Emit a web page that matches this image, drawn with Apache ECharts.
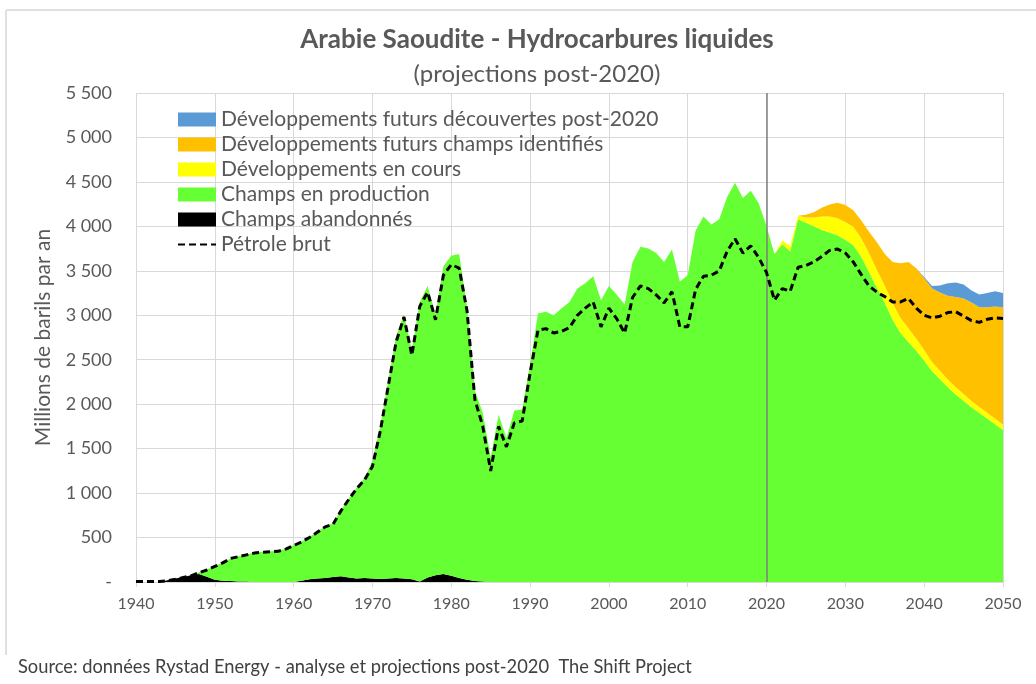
<!DOCTYPE html>
<html>
<head>
<meta charset="utf-8">
<title>Arabie Saoudite - Hydrocarbures liquides</title>
<script src="https://cdn.jsdelivr.net/npm/echarts@6/dist/echarts.min.js"></script>
<style>
  html, body { margin: 0; padding: 0; background: #fff; }
  #chart { width: 1036px; height: 684px; }
</style>
</head>
<body>
<div id="chart"></div>
<script>
// années 1940 -> 2050
var annees = [];
for (var a = 1940; a <= 2050; a++) { annees.push(String(a)); }

// Champs abandonnés (1940 -> 2050)
var abandonnes = [
  0, 0, 0, 0, 20, 40, 55, 75, 90, 60,
  25, 15, 10, 5, 5, 0, 0, 0, 0, 0,
  0, 15, 30, 40, 45, 55, 65, 50, 40, 45,
  40, 35, 40, 45, 40, 30, 5, 50, 75, 90,
  70, 45, 25, 10, 5, 0, 0, 0, 0, 0,
  0, 0, 0, 0, 0, 0, 0, 0, 0, 0,
  0, 0, 0, 0, 0, 0, 0, 0, 0, 0,
  0, 0, 0, 0, 0, 0, 0, 0, 0, 0,
  0, 0, 0, 0, 0, 0, 0, 0, 0, 0,
  0, 0, 0, 0, 0, 0, 0, 0, 0, 0,
  0, 0, 0, 0, 0, 0, 0, 0, 0, 0,
  0
];

// Champs en production (1940 -> 2050)
var enProduction = [
  0, 0, 0, 0, 0, 0, 0, 0, 20, 80,
  155, 205, 255, 285, 305, 330, 340, 345, 350, 375,
  415, 440, 475, 525, 580, 605, 745, 890, 1020, 1125,
  1320, 1725, 2220, 2715, 2970, 2570, 3145, 3280, 2935, 3460,
  3600, 3645, 3075, 2140, 1895, 1400, 1880, 1620, 1930, 1940,
  2450, 3020, 3040, 3000, 3080, 3150, 3300, 3360, 3440, 3170,
  3330, 3230, 3120, 3600, 3770, 3750, 3700, 3600, 3740, 3380,
  3450, 3950, 4110, 4020, 4080, 4330, 4490, 4320, 4400, 4260,
  4000, 3690, 3800, 3720, 4080, 4040, 4000, 3960, 3930, 3900,
  3850, 3790, 3660, 3490, 3310, 3140, 2950, 2800, 2700, 2600,
  2490, 2370, 2280, 2190, 2110, 2040, 1965, 1900, 1840, 1775,
  1710
];

// projections 2020 -> 2050
var enCours = [
  0, 0, 40, 60, 40, 60, 100, 150, 180, 190,
  200, 205, 210, 210, 200, 195, 185, 170, 155, 135,
  120, 105, 95, 88, 80, 75, 70, 68, 65, 62,
  60
];
var champsIdentifies = [
  0, 0, 0, 0, 0, 30, 60, 100, 135, 175,
  190, 185, 200, 240, 310, 355, 465, 615, 745, 795,
  810, 825, 880, 942, 1015, 1075, 1110, 1122, 1185, 1263,
  1320
];
var decouvertesPost2020 = [
  0, 0, 0, 0, 0, 0, 0, 0, 0, 0,
  0, 0, 0, 0, 0, 0, 0, 0, 0, 0,
  10, 30, 80, 140, 165, 155, 135, 145, 160, 170,
  160
];

// Pétrole brut (1940 -> 2050)
var petroleBrut = [
  5, 5, 5, 5, 15, 30, 50, 70, 105, 135,
  175, 215, 265, 285, 305, 325, 335, 340, 345, 370,
  410, 450, 500, 560, 620, 650, 800, 930, 1050, 1150,
  1300, 1700, 2200, 2700, 2980, 2550, 3100, 3260, 2950, 3450,
  3570, 3530, 3050, 2050, 1750, 1250, 1750, 1520, 1790, 1810,
  2350, 2830, 2850, 2800, 2820, 2860, 3000, 3080, 3150, 2870,
  3080, 2960, 2800, 3200, 3330, 3300, 3230, 3140, 3265, 2870,
  2870, 3290, 3440, 3450, 3500, 3720, 3860, 3700, 3780, 3650,
  3480, 3170, 3300, 3270, 3540, 3560, 3600, 3660, 3730, 3745,
  3700, 3600, 3460, 3330, 3260, 3210, 3150, 3150, 3190, 3080,
  3000, 2970, 2990, 3030, 3040, 2990, 2940, 2920, 2955, 2970,
  2965
];

var yTicks = [0, 500, 1000, 1500, 2000, 2500, 3000, 3500, 4000, 4500, 5000, 5500];

// les projections ne commencent qu'en 2020
function depuis2020(valeurs) {
  var avant = [];
  for (var i = 0; i < 80; i++) { avant.push(0); }
  return avant.concat(valeurs);
}

function formatMilliers(v) {
  if (v === 0) return '-';
  if (v < 1000) return String(v);
  var reste = v % 1000;
  return Math.floor(v / 1000) + ' ' + (reste < 10 ? '00' : reste < 100 ? '0' : '') + reste;
}

function tousLesDix(i) { return i % 10 === 0; }

var police = 'Lato, "Open Sans", sans-serif';
var gris = '#595959';

function aire(nom, couleur, data) {
  return {
    name: nom,
    type: 'line',
    stack: 'total',
    data: data,
    symbol: 'none',
    color: couleur,
    itemStyle: { color: couleur },
    lineStyle: { width: 0, color: couleur },
    areaStyle: { color: couleur, opacity: 1 },
    silent: true
  };
}

var myChart = echarts.init(document.getElementById('chart'));

var option = {
  animation: false,
  textStyle: { fontFamily: police },
  title: {
    text: 'Arabie Saoudite - Hydrocarbures liquides',
    subtext: '(projections post-2020)',
    left: 532,
    textAlign: 'center',
    top: 22,
    itemGap: 9,
    textStyle: { fontFamily: police, fontSize: 26, fontWeight: 'bold', color: gris },
    subtextStyle: { fontFamily: police, fontSize: 24, color: gris }
  },
  legend: {
    orient: 'vertical',
    left: 172,
    top: 104,
    itemWidth: 38,
    itemHeight: 14,
    itemGap: 4,
    textStyle: { fontFamily: police, fontSize: 21, lineHeight: 21, color: gris },
    data: [
      { name: 'Développements futurs découvertes post-2020', icon: 'rect' },
      { name: 'Développements futurs champs identifiés', icon: 'rect' },
      { name: 'Développements en cours', icon: 'rect' },
      { name: 'Champs en production', icon: 'rect' },
      { name: 'Champs abandonnés', icon: 'rect' },
      { name: 'Pétrole brut', itemStyle: { opacity: 0 } }
    ]
  },
  grid: { left: 136, right: 33, top: 93, bottom: 102 },
  xAxis: {
    type: 'category',
    data: annees,
    boundaryGap: false,
    axisLine: { lineStyle: { color: '#d9d9d9' } },
    axisTick: { show: true, interval: tousLesDix, length: 5, lineStyle: { color: '#d9d9d9' } },
    axisLabel: { interval: tousLesDix, color: gris, fontSize: 16, margin: 14, fontFamily: police },
    splitLine: { show: true, interval: tousLesDix, lineStyle: { color: '#d9d9d9' } }
  },
  yAxis: {
    type: 'value',
    min: yTicks[0],
    max: yTicks[yTicks.length - 1],
    interval: 500,
    name: 'Millions de barils par an',
    nameLocation: 'middle',
    nameGap: 82,
    nameRotate: 90,
    nameTextStyle: { fontFamily: police, fontSize: 21, color: gris },
    axisLine: { show: false },
    axisTick: { show: false },
    axisLabel: { color: gris, fontSize: 18, margin: 24, fontFamily: police, formatter: formatMilliers },
    splitLine: { show: true, lineStyle: { color: '#d9d9d9' } }
  },
  series: [
    aire('Champs abandonnés', '#000000', abandonnes),
    aire('Champs en production', '#66ff33', enProduction),
    aire('Développements en cours', '#ffff00', depuis2020(enCours)),
    aire('Développements futurs champs identifiés', '#ffc000', depuis2020(champsIdentifies)),
    aire('Développements futurs découvertes post-2020', '#5b9bd5', depuis2020(decouvertesPost2020)),
    {
      name: 'Pétrole brut',
      type: 'line',
      data: petroleBrut,
      symbol: 'none',
      color: '#000000',
      z: 5,
      lineStyle: { color: '#000000', width: 3, type: [7, 4] },
      markLine: {
        silent: true,
        symbol: ['none', 'none'],
        label: { show: false },
        lineStyle: { color: '#7f7f7f', width: 1.5, type: 'solid' },
        data: [{ xAxis: '2020' }]
      }
    }
  ],
  graphic: [
    { type: 'line', shape: { x1: 6, y1: 10, x2: 1036, y2: 10 }, style: { stroke: '#e0e0e0', lineWidth: 2 } },
    { type: 'line', shape: { x1: 6, y1: 10, x2: 6, y2: 655 }, style: { stroke: '#e0e0e0', lineWidth: 2 } },
    {
      type: 'text',
      left: 18,
      top: 658,
      style: {
        text: 'Source: données Rystad Energy - analyse et projections post-2020  The Shift Project',
        fill: '#404040',
        font: '18.3px ' + police
      }
    }
  ]
};

myChart.setOption(option);
</script>
</body>
</html>
